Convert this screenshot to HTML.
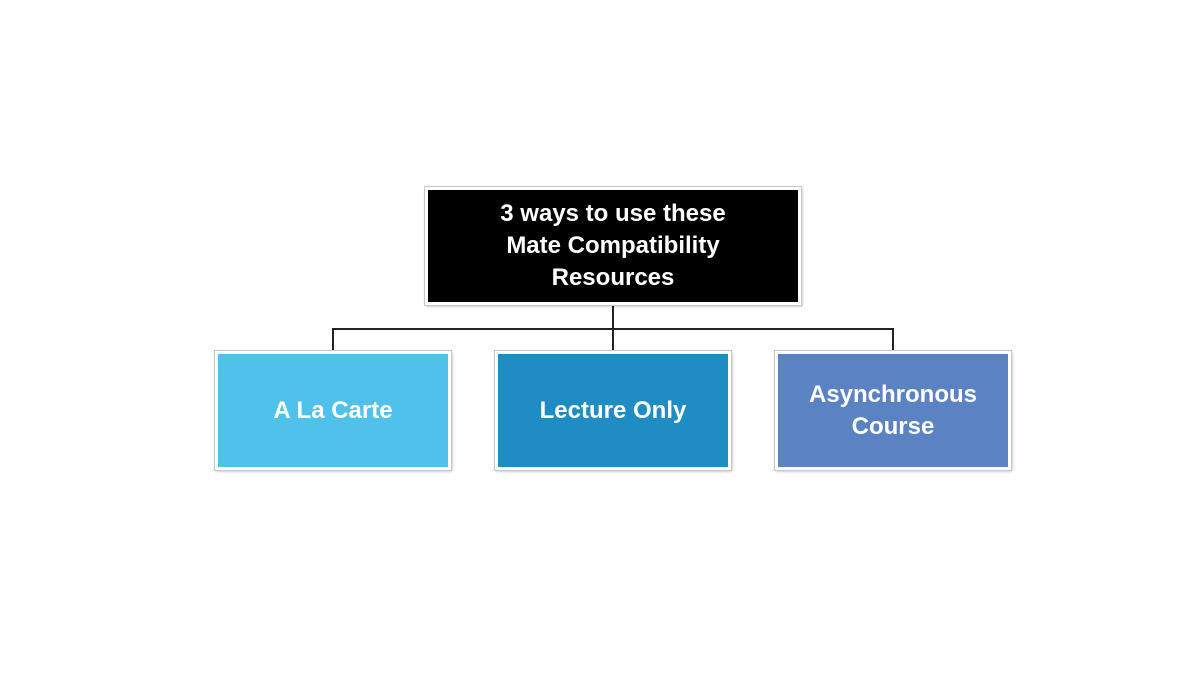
<!DOCTYPE html>
<html><head><style>
body{margin:0;width:1200px;height:675px;background:#fff;position:relative;overflow:hidden;font-family:"Liberation Sans",sans-serif;}
.b{position:absolute;box-sizing:border-box;border:3px solid #fff;outline:1px solid #c8c8c8;box-shadow:1px 1px 3px rgba(0,0,0,0.35);color:#fff;font-weight:bold;font-size:24px;line-height:32px;display:flex;align-items:center;justify-content:center;text-align:center;}
.l{position:absolute;background:#222;}
</style></head><body>
<div class="l" style="left:612px;top:304px;width:2px;height:26px"></div>
<div class="l" style="left:332px;top:328px;width:562px;height:2px"></div>
<div class="l" style="left:332px;top:328px;width:2px;height:24px"></div>
<div class="l" style="left:612px;top:328px;width:2px;height:24px"></div>
<div class="l" style="left:892px;top:328px;width:2px;height:24px"></div>
<div class="b" style="left:425px;top:187px;width:376px;height:118px;background:#000;line-height:32px;">3 ways to use these<br>Mate Compatibility<br>Resources</div>
<div class="b" style="left:215px;top:351px;width:236px;height:119px;background:#4fc1eb;">A La Carte</div>
<div class="b" style="left:495px;top:351px;width:236px;height:119px;background:#1f8cc4;">Lecture Only</div>
<div class="b" style="left:775px;top:351px;width:236px;height:119px;background:#5b83c4;">Asynchronous<br>Course</div>
</body></html>
